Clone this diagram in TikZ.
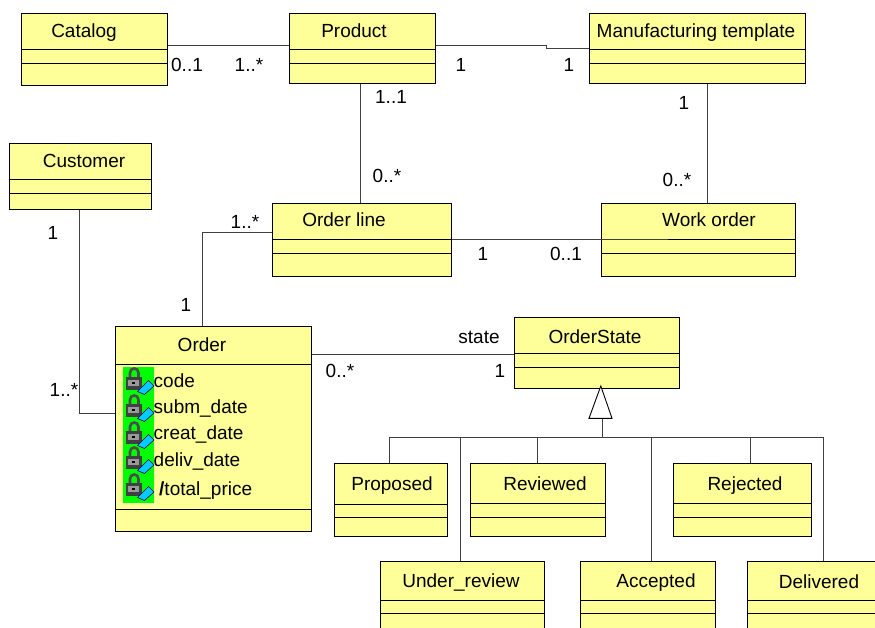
\documentclass[tikz,border=0pt]{standalone}
\usepackage{fontspec}
\setmainfont{Liberation Sans}
\usetikzlibrary{positioning,calc}
\definecolor{classyellow}{HTML}{FFFF99}
\definecolor{keyblue}{HTML}{00CCFF}
\tikzset{
	classbox/.style = {draw=black, fill=classyellow, line width=1.05pt, inner sep=0pt},
	classline/.style = {black, line width=0.9pt},
	assoc/.style = {black!75, line width=0.95pt},
	txt/.style = {inner sep=0pt, text height=15.5pt, text depth=2pt, font=\fontsize{19}{21}\selectfont},
}
\newcommand{\keyicon}[1]{%
	\begin{scope}[yshift=-#1 pt]
		\draw[black!70, line width=2.6pt] (130,378) -- (130,373) .. controls (130,367) and (138.5,367) .. (138.5,373) -- (138.5,378);
		\fill[black!75] (126,377) rectangle (142,390);
		\fill[black!40] (128,380) rectangle (139,386);
		\fill[black] (132,381.5) rectangle (135,383.5);
		\draw[black!60!blue, line width=0.6pt, fill=keyblue] (137.5,391.5) -- (148.5,380.5) -- (154,386) -- (144.5,394.5) -- cycle;
	\end{scope}}
\begin{document}
\begin{tikzpicture}
		[x=1pt, y=-1pt]
		\useasboundingbox (0,0) rectangle (875,628);
		\clip (0,0) rectangle (875,628);

		% classes: name/left/top/right/bottom/line/line/title/title x/title y
		\foreach \name/\xa/\ya/\xb/\yb/\lineA/\lineB/\ttl/\tx/\ty in {
			catalog/22/14/168/86/49.5/63/Catalog/84/31,
			product/290/14/436/84/49.5/63/Product/354/31,
			template/590/14/806/84/49.5/63/Manufacturing template/696/31,
			customer/10/144/152/210/179/193/Customer/84/161,
			orderline/273/204/452/277/239/253/Order line/344/220,
			workorder/602/204/796/277/239/253/Work order/709/220,
			order/116/327/312/532/364/509/Order/202/345,
			orderstate/515/318/680/389/353/367/OrderState/595/337,
			proposed/335/464/448/537/504/517/Proposed/392/484,
			reviewed/471/464/606/537/503/517/Reviewed/545/484,
			rejected/674/464/812/537/503/517/Rejected/745/484,
			underreview/381/562/545/660/600/613/Under\_review/461/581,
			accepted/581/562/716/660/600/613/Accepted/656/581,
			delivered/748/562/900/660/600/613/Delivered/819/582} {
			\node[classbox, minimum width={\xb-\xa}, minimum height={\yb-\ya}] (\name) at ({(\xa+\xb)/2-0.15},{(\ya+\yb)/2-0.15}) {};
			\draw[classline] (\name.west |- 0,\lineA) -- (\name.east |- 0,\lineA);
			\draw[classline] (\name.west |- 0,\lineB) -- (\name.east |- 0,\lineB);
			\node[txt] (\name-title) at (\tx,\ty) {\ttl};
		}

		% associations
		\draw[assoc] (catalog.east |- 0,45.5) -- (product.west |- 0,45.5);
		\draw[assoc] (product.east |- 0,45.5) -- (546,45.5) -- (546,48) -- (template.west |- 0,48);
		\draw[assoc] (product.south -| 360.5,0) -- (orderline.north -| 360.5,0);
		\draw[assoc] (template.south -| 707,0) -- (workorder.north -| 707,0);
		\draw[assoc] (customer.south -| 79,0) -- (79,413) -- (order.west |- 0,413);
		\draw[assoc] (orderline.west |- 0,232) -- (202,232) -- (order.north -| 202,0);
		\draw[assoc] (orderline.east |- 0,239) -- (668,239);
		\draw[assoc] (order.east |- 0,354) -- (orderstate.west |- 0,354);

		% generalisation
		\coordinate (bus) at (602.5,437.5);
		\draw[assoc] (389,437.5) -- (823.5,437.5);
		\draw[assoc] (bus) -- (602.5,418);
		\draw[black, line width=0.9pt, fill=white] (600.8,386) -- (612,418.3) -- (589,418.3) -- cycle;
		\draw[assoc] (proposed.north -| 389,0) -- (389,437.5);
		\draw[assoc] (underreview.north -| 460,0) -- (460,437.5);
		\draw[assoc] (reviewed.north -| 537.5,0) -- (537.5,437.5);
		\draw[assoc] (accepted.north -| 651,0) -- (651,437.5);
		\draw[assoc] (rejected.north -| 750,0) -- (750,437.5);
		\draw[assoc] (delivered.north -| 823.5,0) -- (823.5,437.5);

		% attributes
		\fill[green] (123,367) rectangle (154,503);
		\keyicon{0}
		\keyicon{27}
		\keyicon{54}
		\keyicon{79}
		\keyicon{106}
		\node[txt, anchor=west] (attr-code) at (153.5,381) {code};
		\node[txt, anchor=west] (attr-subm) at (153.5,407) {subm\_date};
		\node[txt, anchor=west] (attr-creat) at (153.5,433) {creat\_date};
		\node[txt, anchor=west] (attr-deliv) at (153.5,460) {deliv\_date};
		\node[txt, anchor=west] (attr-total) at (159,489) {\textbf{/}total\_price};

		% multiplicities
		\node[txt] (m-a) at (187,65) {0..1};
		\node[txt] (m-b) at (249,65) {1..*};
		\node[txt] (m-c) at (461,65) {1};
		\node[txt] (m-d) at (569,65) {1};
		\node[txt] (m-e) at (391,97) {1..1};
		\node[txt] (m-f) at (387,176) {0..*};
		\node[txt] (m-g) at (684,103) {1};
		\node[txt] (m-h) at (677,180) {0..*};
		\node[txt] (m-i) at (53,233) {1};
		\node[txt] (m-j) at (245,222) {1..*};
		\node[txt] (m-k) at (186,305) {1};
		\node[txt] (m-l) at (483,254) {1};
		\node[txt] (m-m) at (566,254) {0..1};
		\node[txt] (m-n) at (479,337) {state};
		\node[txt] (m-o) at (340,371) {0..*};
		\node[txt] (m-p) at (500,371) {1};
		\node[txt] (m-q) at (64,390) {1..*};
	\end{tikzpicture}
\end{document}
